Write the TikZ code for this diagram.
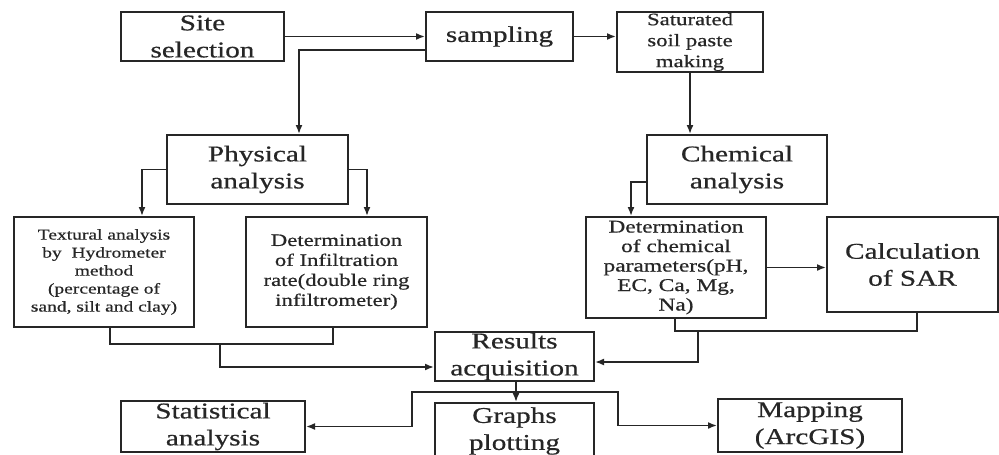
\documentclass[tikz,border=0pt]{standalone}
\usepackage{fontspec}
\setmainfont{Liberation Serif}[FakeStretch=1.3,FakeBold=0.6]
\usetikzlibrary{arrows.meta,calc,shadows}
\begin{document}
\begin{tikzpicture}[x=1pt,y=-1pt,
  box/.style={draw=black!85, line width=2pt, fill=white, align=center, inner sep=0pt, text=black!85,
    drop shadow={shadow xshift=1.2pt,shadow yshift=-1.2pt,opacity=0.2}},
  big/.style={box, font=\fontsize{22.5}{27}\selectfont},
  arr/.style={line width=1.7pt, draw=black!85, -{Latex[length=9pt,width=7pt]}},
  ln/.style={line width=1.7pt, draw=black!85}]
\useasboundingbox (0,0) rectangle (999,455);
\clip (0,0) rectangle (999,455);
\fill[white] (0,0) rectangle (999,455);

% top row
\node[big, minimum width=163, minimum height=49] (site) at (202.5,36.5) {Site\\selection};
\node[big, minimum width=147, minimum height=49] (samp) at (499.5,36.5) {sampling};
\node[box, minimum width=146, minimum height=60, font=\fontsize{17.5}{21}\selectfont] (sat) at (690,42) {Saturated\\soil paste\\making};

% analysis
\node[big, minimum width=181, minimum height=69] (phys) at (257.5,169.5) {Physical\\analysis};
\node[big, minimum width=180, minimum height=69] (chem) at (737,169.5) {Chemical\\analysis};

% determinations
\node[box, minimum width=180, minimum height=110, font=\fontsize{15}{18}\selectfont] (text) at (104,272) {Textural analysis\\by\ \ Hydrometer\\method\\(percentage of\\sand, silt and clay)};
\node[box, minimum width=181, minimum height=110, font=\fontsize{17.5}{20}\selectfont] (infil) at (336.5,272) {Determination\\of Infiltration\\rate(double ring\\infiltrometer)};
\node[box, minimum width=180, minimum height=101, font=\fontsize{18}{19.5}\selectfont] (detc) at (676,267.5) {Determination\\of chemical\\parameters(pH,\\EC, Ca, Mg,\\Na)};
\node[big, minimum width=171, minimum height=95] (calc) at (912.5,264.5) {Calculation\\of SAR};

% results
\node[big, minimum width=159, minimum height=49] (res) at (514.5,356.5) {Results\\acquisition};
\node[big, minimum width=184, minimum height=51] (stat) at (213,426.5) {Statistical\\analysis};
\node[big, minimum width=159, minimum height=56] (graphs) at (514.5,431) {Graphs\\plotting};
\node[big, minimum width=184, minimum height=53] (map) at (810,425.5) {Mapping\\(ArcGIS)};

% connectors
\draw[arr] (site.east) -- (site.east -| samp.west);
\draw[arr] ($(samp.west)+(0,13.5)$) -| ($(phys.north)+(41.5,0)$);
\draw[arr] (samp.east) -- (samp.east -| sat.west);
\draw[arr] (sat.south) -- (sat.south |- chem.north);
\draw[arr] (phys.west) -| ($(text.north)+(38,0)$);
\draw[arr] (phys.east) -| ($(infil.north)+(30.5,0)$);
\draw[arr] ($(chem.west)+(0,12.5)$) -| ($(detc.north)+(-45,0)$);
\draw[arr] (detc.east) -- (detc.east -| calc.west);

\coordinate (jl) at (220,344);
\draw[ln] ($(text.south)+(6,0)$) |- (jl) -| ($(infil.south)+(-3.5,0)$);
\draw[arr] (jl) |- ($(res.west)+(0,10.5)$);

\coordinate (jr) at (698,331);
\draw[ln] ($(detc.south)+(-1,0)$) |- (jr) -| ($(calc.south)+(4.5,0)$);
\draw[arr] (jr) |- ($(res.east)+(0,5.5)$);

\draw[arr] ($(res.south)+(1.5,0)$) -- ($(graphs.north)+(1.5,0)$);
\coordinate (jb) at (516,392);
\draw[arr] (jb) -- (412,392) |- (stat.east);
\draw[arr] (jb) -- (618,392) |- (map.west);
\end{tikzpicture}
\end{document}
